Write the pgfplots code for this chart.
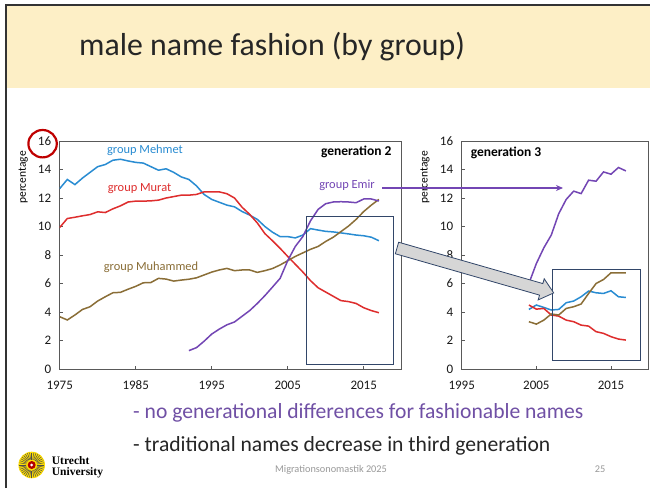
\documentclass[border=0pt]{standalone}
\usepackage{fontspec}
\setmainfont{Carlito}
\newfontfamily\logofont{Liberation Serif}
\usepackage{pgfplots}
\usepackage{pgfplotstable}
\pgfplotsset{compat=1.18}
\usetikzlibrary{arrows.meta}

\definecolor{mehmet}{RGB}{41,140,210}
\definecolor{murat}{RGB}{222,45,45}
\definecolor{muhammed}{RGB}{138,110,55}
\definecolor{emir}{RGB}{115,70,180}
\definecolor{boxblue}{RGB}{50,70,105}
\definecolor{band}{RGB}{253,239,198}
\definecolor{bullet}{RGB}{112,80,165}

% generation 2, percentages per year
\pgfplotstableread{
year mehmet murat muhammed emir
1975 12.66 9.93 3.67 nan
1976 13.30 10.56 3.44 nan
1977 12.94 10.65 3.79 nan
1978 13.40 10.75 4.18 nan
1979 13.80 10.84 4.37 nan
1980 14.20 11.03 4.77 nan
1981 14.35 10.98 5.07 nan
1982 14.65 11.24 5.35 nan
1983 14.72 11.45 5.38 nan
1984 14.60 11.72 5.60 nan
1985 14.50 11.78 5.80 nan
1986 14.45 11.78 6.05 nan
1987 14.20 11.80 6.07 nan
1988 13.95 11.85 6.36 nan
1989 14.05 12.00 6.31 nan
1990 13.80 12.10 6.17 nan
1991 13.48 12.20 6.24 nan
1992 13.30 12.20 6.30 1.29
1993 12.85 12.25 6.40 1.50
1994 12.25 12.43 6.60 1.95
1995 11.90 12.43 6.80 2.45
1996 11.70 12.43 6.95 2.80
1997 11.50 12.30 7.06 3.10
1998 11.38 12.00 6.90 3.30
1999 11.05 11.35 6.95 3.70
2000 10.80 10.85 6.95 4.10
2001 10.50 10.25 6.78 4.60
2002 10.00 9.50 6.90 5.15
2003 9.60 9.00 7.05 5.75
2004 9.29 8.47 7.30 6.36
2005 9.29 7.90 7.60 7.60
2006 9.20 7.35 7.90 8.60
2007 9.40 6.80 8.15 9.30
2008 9.85 6.20 8.40 10.40
2009 9.75 5.70 8.60 11.20
2010 9.66 5.40 8.95 11.60
2011 9.62 5.10 9.25 11.72
2012 9.55 4.80 9.64 11.74
2013 9.48 4.73 10.03 11.72
2014 9.40 4.60 10.50 11.67
2015 9.35 4.30 11.05 11.93
2016 9.25 4.10 11.50 11.93
2017 9.00 3.95 11.90 11.79
}\gentwo

% generation 3
\pgfplotstableread{
year mehmet murat muhammed emir
2004 4.18 4.49 3.32 6.00
2005 4.49 4.20 3.15 7.40
2006 4.32 4.25 3.43 8.50
2007 4.14 3.79 3.86 9.40
2008 4.18 3.71 3.79 10.90
2009 4.65 3.43 4.25 11.90
2010 4.77 3.32 4.37 12.48
2011 5.07 3.08 4.56 12.31
2012 5.47 3.01 5.30 13.25
2013 5.35 2.62 6.00 13.18
2014 5.30 2.50 6.28 13.83
2015 5.49 2.27 6.75 13.67
2016 5.07 2.10 6.75 14.14
2017 5.02 2.03 6.75 13.90
}\genthree

\pgfplotsset{
  slide axis/.style={
    scale only axis, height=228pt,
    ymin=0, ymax=16, ytick={0,2,...,16},
    axis line style={black!65, line width=0.8pt},
    tick style={black!65, line width=0.6pt},
    tick align=inside, major tick length=3.5pt,
    xtick pos=bottom, ytick pos=left,
    tick label style={font=\fontsize{13}{13}\selectfont, text=black!90},
    /pgf/number format/assume math mode=true,
    xticklabel style={/pgf/number format/1000 sep={}, anchor=center, yshift=-16pt},
    yticklabel style={anchor=east, xshift=-5pt},
    ylabel={percentage},
    ylabel style={font=\fontsize{11.5}{12}\selectfont, anchor=center},
    every axis plot/.append style={line width=1.5pt, no marks},
  }
}

\begin{document}
\begin{tikzpicture}
\path[use as bounding box, fill=white] (0,0) rectangle (650pt,488pt);

% slide header
\fill[band] (7pt,400pt) rectangle (650pt,482pt);
\draw[black!80, line width=2.3pt] (6.2pt,0) -- (6.2pt,483.2pt) -- (650pt,483.2pt);
\node[anchor=base west, inner sep=0, font=\fontsize{31.8}{32}\selectfont, text=black!85]
  at (79pt,432pt) {male name fashion (by group)};

% generation 2
\begin{axis}[slide axis,
  at={(59.7pt,119pt)}, anchor=south west, width=342pt,
  xmin=1975, xmax=2020, xtick={1975,1985,...,2015},
  ylabel style={at={(axis description cs:-0.107,0.84)}}]
\addplot[mehmet] table[x=year, y=mehmet] {\gentwo};
\addplot[murat] table[x=year, y=murat] {\gentwo};
\addplot[muhammed] table[x=year, y=muhammed] {\gentwo};
\addplot[emir] table[x=year, y=emir] {\gentwo};
\end{axis}

% generation 3
\begin{axis}[slide axis,
  at={(461.7pt,119pt)}, anchor=south west, width=186.6pt,
  xmin=1995, xmax=2020, xtick={1995,2005,2015},
  ylabel style={at={(axis description cs:-0.197,0.84)}}]
\addplot[mehmet] table[x=year, y=mehmet] {\genthree};
\addplot[murat] table[x=year, y=murat] {\genthree};
\addplot[muhammed] table[x=year, y=muhammed] {\genthree};
\addplot[emir] table[x=year, y=emir] {\genthree};
\end{axis}

% series labels
\begin{scope}[every node/.style={inner sep=0, font=\fontsize{12.4}{13}\selectfont}]
\node[text=mehmet] at (145pt,337.3pt) {group Mehmet};
\node[text=murat] at (139.5pt,299.7pt) {group Murat};
\node[text=muhammed] at (151pt,220.7pt) {group Muhammed};
\node[text=emir] at (347pt,302.3pt) {group Emir};
\node[font=\bfseries\fontsize{13.5}{14}\selectfont] at (356.3pt,336.3pt) {generation 2};
\node[font=\bfseries\fontsize{13.5}{14}\selectfont] at (506pt,334.7pt) {generation 3};
\end{scope}

% highlight of the 16
\draw[red!75!black, line width=2.2pt] (42.6pt,344.3pt) ellipse (14.2pt and 13.7pt);

% zoom boxes and arrows
\draw[boxblue, line width=0.8pt] (306pt,123.7pt) rectangle (393.3pt,271.3pt);
\draw[boxblue, line width=0.8pt] (552.7pt,128pt) rectangle (640pt,219pt);
\begin{scope}[shift={(397pt,240pt)}, rotate=-16]
\draw[boxblue, line width=0.8pt, fill=black!16]
  (0,-6pt) -- (150pt,-6pt) -- (150pt,-11pt) -- (163pt,0) -- (150pt,11pt)
  -- (150pt,6pt) -- (0,6pt) -- cycle;
\end{scope}
\draw[emir, line width=1.1pt, -{Stealth[length=7pt,width=6pt]}] (382pt,300pt) -- (563pt,300pt);

% bullet lines
\node[anchor=base west, inner sep=0, font=\fontsize{21.6}{22}\selectfont, text=bullet]
  at (133pt,70pt) {- no generational differences for fashionable names};
\node[anchor=base west, inner sep=0, font=\fontsize{21.6}{22}\selectfont, text=black!85]
  at (133pt,37pt) {- traditional names decrease in third generation};

% footer
\node[anchor=base, inner sep=0, font=\fontsize{10.3}{11}\selectfont, text=black!40]
  at (331pt,16pt) {Migrationsonomastik 2025};
\node[anchor=base, inner sep=0, font=\fontsize{10.3}{11}\selectfont, text=black!40]
  at (600pt,16pt) {25};

% logo
\fill[yellow!80!orange] (31.7pt,23pt) circle (13.3pt);
\foreach \a in {0,10,...,350}
  \draw[black!70, line width=0.5pt] (31.7pt,23pt) ++(\a:5.5pt) -- ++(\a:7pt);
\fill[red!70!black] (31.7pt,23pt) circle (4pt);
\fill[white] (31.7pt,23pt) circle (1.5pt);
\node[anchor=west, inner sep=0, align=left, font=\logofont\bfseries\fontsize{11.5}{11}\selectfont]
  at (51.7pt,21pt) {Utrecht\\University};
\end{tikzpicture}
\end{document}
